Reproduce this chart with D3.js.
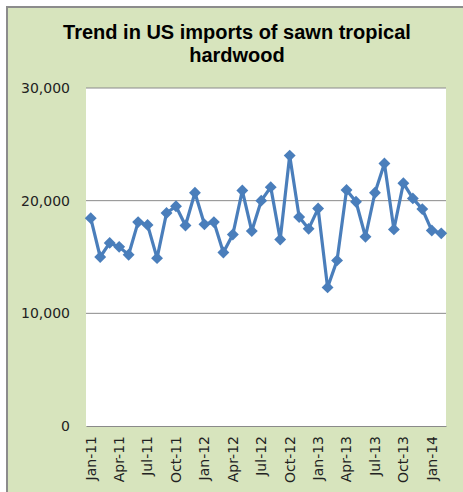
<!DOCTYPE html>
<html>
<head>
<meta charset="utf-8">
<script src="https://cdn.jsdelivr.net/npm/d3@7"></script>
<style>
  body { margin: 0; background: #fff; }
  svg { display: block; }
</style>
</head>
<body>
<svg id="canvas" width="463" height="492"></svg>
<script>
const months = [
  "Jan-11","Feb-11","Mar-11","Apr-11","May-11","Jun-11","Jul-11","Aug-11","Sep-11","Oct-11","Nov-11","Dec-11",
  "Jan-12","Feb-12","Mar-12","Apr-12","May-12","Jun-12","Jul-12","Aug-12","Sep-12","Oct-12","Nov-12","Dec-12",
  "Jan-13","Feb-13","Mar-13","Apr-13","May-13","Jun-13","Jul-13","Aug-13","Sep-13","Oct-13","Nov-13","Dec-13",
  "Jan-14","Feb-14"
];
const imports = [
  18450, 15000, 16250, 15900, 15200, 18100, 17850, 14900, 18900, 19500, 17800, 20700,
  17900, 18100, 15400, 17000, 20900, 17300, 20000, 21200, 16550, 24000, 18550, 17500,
  19300, 12300, 14700, 20950, 19900, 16800, 20700, 23300, 17450, 21550, 20200, 19250,
  17350, 17100
];
const yTicks = [0, 10000, 20000, 30000];
const xLabels = ["Jan-11","Apr-11","Jul-11","Oct-11","Jan-12","Apr-12","Jul-12","Oct-12","Jan-13","Apr-13","Jul-13","Oct-13","Jan-14"];
const title = ["Trend in US imports of sawn tropical", "hardwood"];

const canvas = d3.select("#canvas");
const font = "'Liberation Sans', Arial, sans-serif";
const tickFont = "'DejaVu Sans', sans-serif";

// chart frame
canvas.append("rect")
    .attr("x", 7).attr("y", 7).attr("width", 470).attr("height", 500)
    .attr("fill", "#d7e4bd")
    .attr("stroke", "#8c8c8c")
    .attr("stroke-width", 2);

const plot = { left: 86, right: 446, top: 88, bottom: 426 };

canvas.append("rect")
    .attr("x", plot.left).attr("y", plot.top)
    .attr("width", plot.right - plot.left).attr("height", plot.bottom - plot.top)
    .attr("fill", "#fff");

const x = d3.scaleBand().domain(months).range([plot.left, plot.right]);
const y = d3.scaleLinear().domain([0, 30000]).range([plot.bottom, plot.top]);

// gridlines
canvas.append("g")
    .selectAll("line")
    .data(yTicks.filter(d => d > 0))
    .enter()
    .append("line")
    .attr("x1", plot.left).attr("x2", plot.right)
    .attr("y1", d => y(d)).attr("y2", d => y(d))
    .attr("stroke", "#8a8a8a").attr("stroke-width", 1);

// y axis
const yAxis = canvas.append("g")
    .attr("transform", `translate(${plot.left},0)`)
    .call(d3.axisLeft(y).tickValues(yTicks).tickSize(0).tickPadding(16).tickFormat(d3.format(",")));
yAxis.select(".domain").remove();
yAxis.selectAll("text")
    .attr("font-family", tickFont).attr("font-size", 14).attr("fill", "#222");

// x axis
const xAxis = canvas.append("g")
    .attr("transform", `translate(0,${plot.bottom})`)
    .call(d3.axisBottom(x).tickValues(xLabels).tickSize(0).tickPadding(0));
xAxis.select(".domain").attr("stroke", "#8a8a8a");
xAxis.selectAll("text")
    .attr("font-family", tickFont).attr("font-size", 14).attr("fill", "#222")
    .attr("transform", "rotate(-90)")
    .attr("text-anchor", "end")
    .attr("x", -10).attr("y", 0).attr("dy", "0.35em");

// line
canvas.append("path")
    .datum(imports)
    .attr("fill", "none")
    .attr("stroke", "#4a7ebb")
    .attr("stroke-width", 3.2)
    .attr("stroke-linejoin", "round")
    .attr("d", d3.line()
        .x((d, i) => x(months[i]) + x.bandwidth() / 2)
        .y(d => y(d)));

// diamond markers
canvas.append("g")
    .selectAll("path")
    .data(imports)
    .enter()
    .append("path")
    .attr("d", d3.symbol().type(d3.symbolDiamond2).size(90))
    .attr("transform", (d, i) => `translate(${x(months[i]) + x.bandwidth() / 2},${y(d)})`)
    .attr("fill", "#4a7ebb");

// title
canvas.append("text")
    .attr("x", 237).attr("y", 39)
    .attr("text-anchor", "middle")
    .attr("font-family", font).attr("font-size", 20).attr("font-weight", "bold")
    .attr("fill", "#000")
    .selectAll("tspan")
    .data(title)
    .enter()
    .append("tspan")
    .attr("x", 237)
    .attr("dy", (d, i) => i === 0 ? 0 : 23)
    .text(d => d);
</script>
</body>
</html>
